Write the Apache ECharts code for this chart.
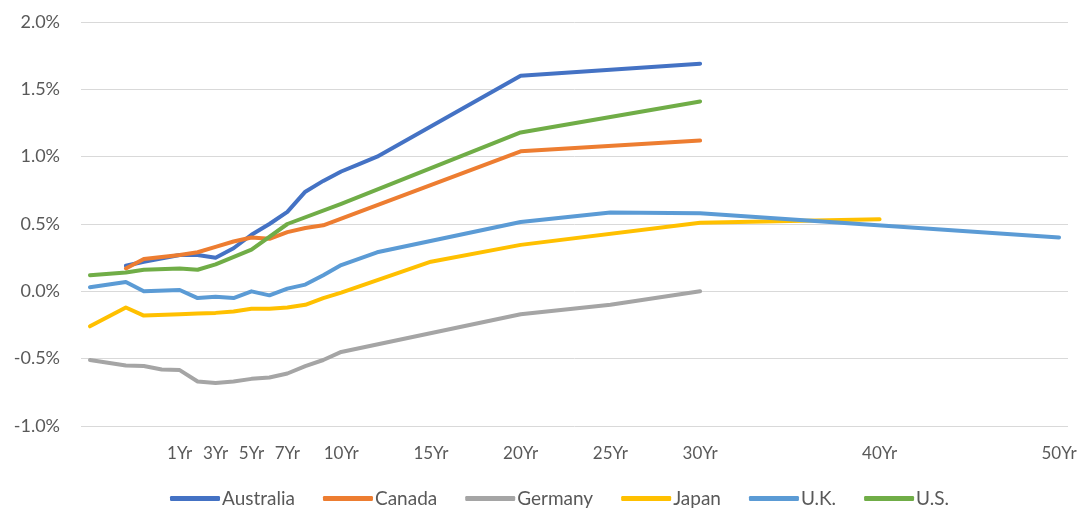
<!DOCTYPE html>
<html>
<head>
<meta charset="utf-8">
<script src="https://cdn.jsdelivr.net/npm/echarts@6/dist/echarts.min.js"></script>
<style>
html,body{margin:0;padding:0;background:#fff;}
#chart{width:1082px;height:510px;}
</style>
</head>
<body>
<div id="chart"></div>
<script>
// Maturity categories (x axis)
var categories = ['1M','2M','3M','6M','9M',
  '1Yr','2Yr','3Yr','4Yr','5Yr','6Yr','7Yr','8Yr','9Yr','10Yr',
  '11Yr','12Yr','13Yr','14Yr','15Yr','16Yr','17Yr','18Yr','19Yr','20Yr',
  '21Yr','22Yr','23Yr','24Yr','25Yr','26Yr','27Yr','28Yr','29Yr','30Yr',
  '31Yr','32Yr','33Yr','34Yr','35Yr','36Yr','37Yr','38Yr','39Yr','40Yr',
  '41Yr','42Yr','43Yr','44Yr','45Yr','46Yr','47Yr','48Yr','49Yr','50Yr'];
var shownLabels = ['1Yr','3Yr','5Yr','7Yr','10Yr','15Yr','20Yr','25Yr','30Yr','40Yr','50Yr'];
var yTicks = {min: -1.0, max: 2.0, step: 0.5};

// Yields (%) per maturity
var australia = [['3M',0.19],['6M',0.22],['1Yr',0.27],['2Yr',0.27],['3Yr',0.25],['4Yr',0.32],['5Yr',0.42],['6Yr',0.50],['7Yr',0.59],['8Yr',0.74],['9Yr',0.82],['10Yr',0.89],['11Yr',0.945],['12Yr',1.00],['20Yr',1.60],['30Yr',1.69]];
var canada = [['3M',0.17],['6M',0.24],['1Yr',0.27],['2Yr',0.29],['3Yr',0.33],['4Yr',0.37],['5Yr',0.40],['6Yr',0.39],['7Yr',0.44],['8Yr',0.47],['9Yr',0.49],['20Yr',1.04],['30Yr',1.12]];
var germany = [['1M',-0.51],['3M',-0.55],['6M',-0.555],['9M',-0.58],['1Yr',-0.585],['2Yr',-0.67],['3Yr',-0.68],['4Yr',-0.67],['5Yr',-0.65],['6Yr',-0.64],['7Yr',-0.61],['8Yr',-0.555],['9Yr',-0.51],['10Yr',-0.45],['20Yr',-0.17],['25Yr',-0.10],['30Yr',0.00]];
var japan = [['1M',-0.26],['3M',-0.12],['6M',-0.18],['1Yr',-0.17],['2Yr',-0.165],['3Yr',-0.16],['4Yr',-0.15],['5Yr',-0.13],['6Yr',-0.13],['7Yr',-0.12],['8Yr',-0.10],['9Yr',-0.05],['10Yr',-0.01],['15Yr',0.22],['20Yr',0.345],['30Yr',0.51],['40Yr',0.535]];
var uk = [['1M',0.03],['3M',0.07],['6M',0.00],['1Yr',0.01],['2Yr',-0.05],['3Yr',-0.04],['4Yr',-0.05],['5Yr',0.00],['6Yr',-0.03],['7Yr',0.02],['8Yr',0.05],['9Yr',0.12],['10Yr',0.195],['12Yr',0.29],['20Yr',0.515],['25Yr',0.585],['30Yr',0.58],['50Yr',0.40]];
var us = [['1M',0.12],['3M',0.14],['6M',0.16],['1Yr',0.17],['2Yr',0.16],['3Yr',0.20],['5Yr',0.31],['7Yr',0.50],['10Yr',0.65],['20Yr',1.18],['30Yr',1.41]];

var seriesNames = ['Australia','Canada','Germany','Japan','U.K.','U.S.'];
var seriesData = [australia, canada, germany, japan, uk, us];
var colors = ['#4472C4','#ED7D31','#A5A5A5','#FFC000','#5B9BD5','#70AD47'];

var FONT = 'Lato, "Open Sans", sans-serif';
var TXT = '#595959';

var chart = echarts.init(document.getElementById('chart'), null, {renderer: 'canvas'});
chart.setOption({
  animation: false,
  color: colors,
  grid: {left: 81, right: 14, top: 22, bottom: 84, containLabel: false},
  legend: {
    top: 484,
    left: 165,
    data: seriesNames,
    icon: 'roundRect',
    itemWidth: 50,
    itemHeight: 5,
    itemGap: 28,
    textStyle: {fontFamily: FONT, fontSize: 19, color: TXT, padding: [0,0,0,-3]}
  },
  xAxis: {
    type: 'category',
    data: categories,
    boundaryGap: true,
    axisLine: {show: false},
    axisTick: {show: false},
    splitLine: {show: false},
    axisLabel: {
      interval: function (idx, val) { return shownLabels.indexOf(val) >= 0; },
      margin: 19,
      fontFamily: FONT,
      fontSize: 17,
      color: TXT
    }
  },
  yAxis: {
    type: 'value',
    min: yTicks.min,
    max: yTicks.max,
    interval: yTicks.step,
    axisLine: {show: false},
    axisTick: {show: false},
    splitLine: {lineStyle: {color: '#D9D9D9', width: 1}},
    axisLabel: {
      margin: 21,
      fontFamily: FONT,
      fontSize: 18,
      color: TXT,
      formatter: function (v) { return v.toFixed(1) + '%'; }
    }
  },
  series: seriesNames.map(function (name, i) {
    return {
      name: name,
      type: 'line',
      data: seriesData[i],
      showSymbol: false,
      symbol: 'none',
      lineStyle: {width: 4, color: colors[i], cap: 'round', join: 'round'},
      itemStyle: {color: colors[i]}
    };
  })
});
</script>
</body>
</html>
